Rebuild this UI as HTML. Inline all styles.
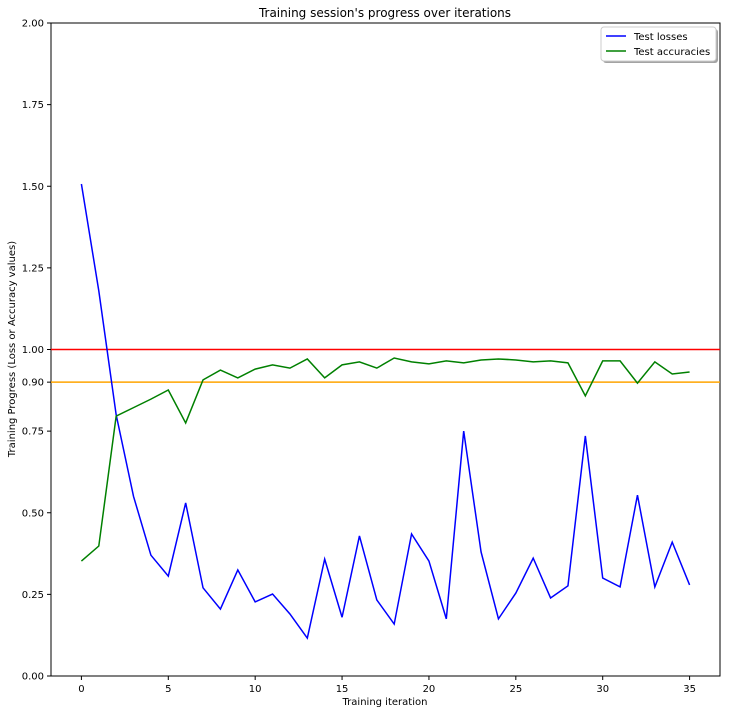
<!DOCTYPE html>
<html><head><meta charset="utf-8"><style>
body{margin:0;background:#fff;font-family:"Liberation Sans","DejaVu Sans",sans-serif;}
svg text{font-family:"DejaVu Sans","Liberation Sans",sans-serif;}
</style></head><body>
<svg id="chart" width="730" height="713">
<text x="385" y="17" font-size="12" text-anchor="middle">Training session's progress over iterations</text>
<text x="385" y="705" font-size="10" text-anchor="middle">Training iteration</text>
<text transform="translate(15,349) rotate(-90)" font-size="10" text-anchor="middle">Training Progress (Loss or Accuracy values)</text>
<g id="axes"></g>
<g id="marks"></g>
<g>
<rect x="603" y="29" width="115" height="34" rx="3" fill="#666" opacity="0.6"/>
<rect x="601" y="27" width="115" height="34" rx="3" fill="#fff" stroke="#ccc"/>
<line x1="606" y1="36" x2="626" y2="36" stroke="blue" stroke-width="1.5"/>
<text x="634" y="40" font-size="10">Test losses</text>
<line x1="606" y1="51" x2="626" y2="51" stroke="green" stroke-width="1.5"/>
<text x="634" y="55" font-size="10">Test accuracies</text>
</g>
</svg>
<script>
const iterations=[...Array(36).keys()];
const testLosses=[1.507,1.18,0.80,0.55,0.37,0.306,0.53,0.27,0.205,0.325,0.227,0.251,0.19,0.116,0.358,0.18,0.429,0.233,0.159,0.435,0.352,0.175,0.75,0.38,0.175,0.254,0.361,0.239,0.276,0.735,0.30,0.273,0.554,0.273,0.41,0.279];
const testAccuracies=[0.352,0.398,0.796,0.822,0.848,0.876,0.775,0.907,0.937,0.913,0.94,0.953,0.943,0.971,0.913,0.953,0.962,0.943,0.974,0.962,0.956,0.965,0.959,0.968,0.971,0.968,0.962,0.965,0.959,0.858,0.965,0.965,0.897,0.962,0.925,0.931];
const yTicks=[0,0.25,0.5,0.75,0.9,1,1.25,1.5,1.75,2];
const xTicks=[0,5,10,15,20,25,30,35];
const refLines=[1.0,0.9];
const L=51,R=720,T=23,B=676,xMin=-1.75,xMax=36.75,yMin=0,yMax=2;
const sx=v=>L+(v-xMin)/(xMax-xMin)*(R-L);
const sy=v=>B-(v-yMin)/(yMax-yMin)*(B-T);
const NS="http://www.w3.org/2000/svg";
const axes=document.getElementById('axes'),marks=document.getElementById('marks');
function mk(tag,attrs,parent){const e=document.createElementNS(NS,tag);for(const k in attrs)e.setAttribute(k,attrs[k]);parent.appendChild(e);return e;}
yTicks.forEach(t=>{const y=sy(t);
mk('line',{x1:L-4,x2:L,y1:y,y2:y,stroke:'#000'},axes);
const tx=mk('text',{x:L-7,y:y+3.5,'font-size':10,'text-anchor':'end'},axes);tx.textContent=t.toFixed(2);

});
xTicks.forEach(t=>{const x=sx(t);
mk('line',{x1:x,x2:x,y1:B,y2:B+4,stroke:'#000'},axes);
const tx=mk('text',{x:x,y:B+16,'font-size':10,'text-anchor':'middle'},axes);tx.textContent=t;

});
const frame=mk('rect',{x:L,y:T,width:R-L,height:B-T,fill:'none',stroke:'#000','stroke-width':1},axes);


const refColors=['red','orange'];
refLines.forEach((v,i)=>{const l=mk('line',{x1:L,x2:R,y1:sy(v),y2:sy(v),stroke:refColors[i],'stroke-width':1.5},marks);

});
function series(vals,color,name){const p=mk('polyline',{points:vals.map((v,i)=>sx(iterations[i])+','+sy(v)).join(' '),fill:'none',stroke:color,'stroke-width':1.5},marks);

}
series(testLosses,'blue','test-losses-line');
series(testAccuracies,'green','test-accuracies-line');
</script>
</body></html>
